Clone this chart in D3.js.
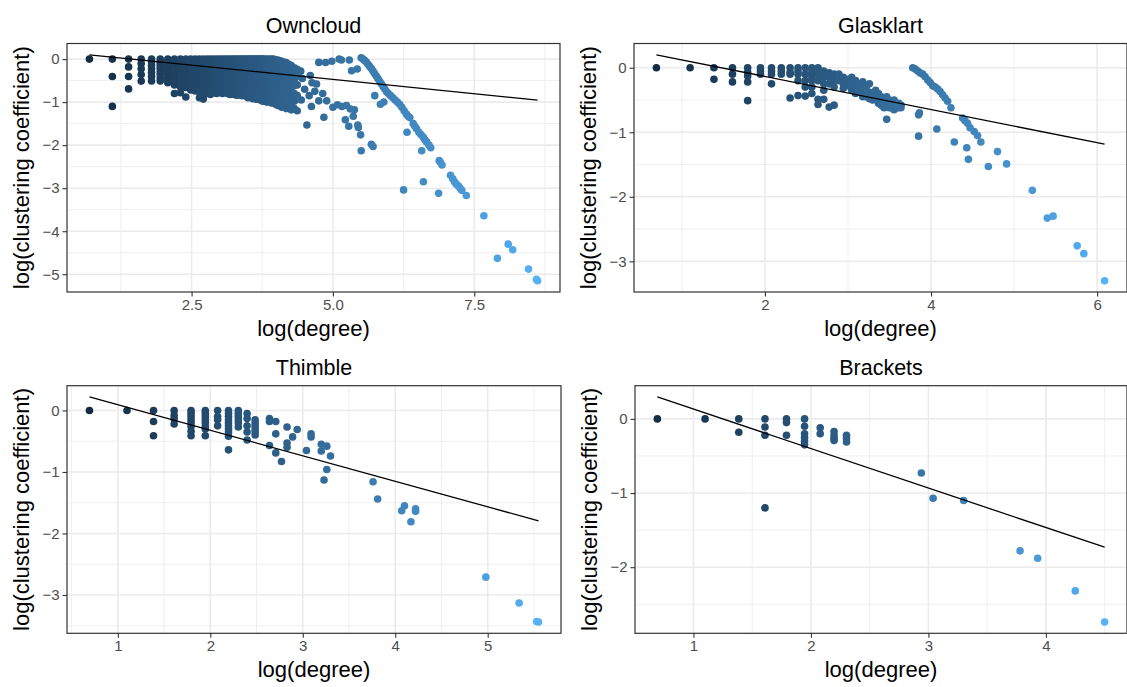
<!DOCTYPE html>
<html><head><meta charset="utf-8">
<script src="https://cdn.jsdelivr.net/npm/d3@7/dist/d3.min.js"></script>
<style>
body{margin:0;background:#fff;}
svg{display:block;font-family:"Liberation Sans",Arial,Helvetica,sans-serif;}
</style></head>
<body><svg id="chart" width="1127" height="687"></svg>
<script>
// ---------------- DATA ----------------
const panelTitles = ["Owncloud","Glasklart","Thimble","Brackets"];
const xTitle = "log(degree)";
const yTitle = "log(clustering coefficient)";

// tick values per panel
const xTicks = [[2.5,5,7.5],[2,4,6],[1,2,3,4,5],[1,2,3,4]];
const xTickLabels = [["2.5","5.0","7.5"],["2","4","6"],["1","2","3","4","5"],["1","2","3","4"]];
const yTicks = [[0,-1,-2,-3,-4,-5],[0,-1,-2,-3],[0,-1,-2,-3],[0,-1,-2]];

// regression lines: [intercept, slope]
const fits = [[0.192,-0.133],[0.378,-0.2565],[0.507,-0.4147],[0.665,-0.5324]];

// Owncloud: columns [log(degree), [log(cc) values]]
const ownColumns = [
 [0.693,[0]],
 [1.099,[0,-0.405,-1.099]],
 [1.386,[0,-0.182,-0.405,-0.693]],
 [1.609,[0,-0.105,-0.223,-0.357,-0.511]],
 [1.792,[0,-0.07,-0.143,-0.223,-0.31,-0.405,-0.51]],
 [1.946,[0,-0.05,-0.1,-0.16,-0.22,-0.29,-0.36,-0.44,-0.51]],
 [2.079,[0,-0.05,-0.1,-0.15,-0.2,-0.25,-0.3,-0.36,-0.42,-0.48,-0.55]],
 [2.197,[0,-0.04,-0.08,-0.13,-0.18,-0.23,-0.29,-0.35,-0.41,-0.47,-0.53,-0.6,-0.8]],
 [2.303,[0,-0.04,-0.08,-0.12,-0.17,-0.22,-0.27,-0.32,-0.38,-0.44,-0.5,-0.57,-0.64,-0.78]],
 [2.398,[0,-0.05,-0.1,-0.15,-0.2,-0.25,-0.3,-0.35,-0.4,-0.46,-0.52,-0.58,-0.66,-0.88]],
 [2.485,[0,-0.05,-0.1,-0.15,-0.2,-0.25,-0.3,-0.35,-0.4,-0.46,-0.52,-0.58,-0.65,-0.72]],
 [2.565,[0,-0.05,-0.1,-0.15,-0.2,-0.25,-0.3,-0.35,-0.4,-0.46,-0.52,-0.58,-0.66,-0.74]],
 [2.639,[0,-0.05,-0.1,-0.15,-0.2,-0.25,-0.3,-0.35,-0.4,-0.46,-0.52,-0.58,-0.66,-0.76,-0.9]],
 [2.708,[0,-0.05,-0.1,-0.15,-0.2,-0.25,-0.3,-0.35,-0.4,-0.46,-0.52,-0.58,-0.66,-0.74,-0.8,-0.93]],
 [2.773,[0,-0.05,-0.1,-0.15,-0.2,-0.25,-0.3,-0.35,-0.4,-0.46,-0.52,-0.58,-0.66,-0.74,-0.8]],
 [2.833,[0,-0.05,-0.1,-0.15,-0.2,-0.25,-0.3,-0.35,-0.4,-0.46,-0.52,-0.58,-0.66,-0.74,-0.82]],
 [2.890,[0,-0.05,-0.1,-0.15,-0.2,-0.25,-0.3,-0.35,-0.4,-0.46,-0.52,-0.58,-0.66,-0.72,-0.78]],
 [2.944,[0,-0.05,-0.1,-0.15,-0.2,-0.25,-0.3,-0.35,-0.4,-0.46,-0.52,-0.58,-0.66,-0.74,-0.8]],
 [2.996,[0,-0.05,-0.1,-0.15,-0.2,-0.25,-0.3,-0.35,-0.4,-0.46,-0.52,-0.58,-0.66,-0.74]],
 [3.045,[0,-0.05,-0.1,-0.15,-0.2,-0.25,-0.3,-0.35,-0.4,-0.46,-0.52,-0.58,-0.66,-0.74,-0.8]],
 [3.091,[0,-0.05,-0.1,-0.15,-0.2,-0.25,-0.3,-0.35,-0.4,-0.46,-0.52,-0.58,-0.66,-0.74]],
 [3.135,[0,-0.05,-0.1,-0.15,-0.2,-0.25,-0.3,-0.35,-0.4,-0.46,-0.52,-0.58,-0.66,-0.74,-0.8]],
 [3.178,[0,-0.05,-0.1,-0.15,-0.2,-0.25,-0.3,-0.35,-0.4,-0.46,-0.52,-0.58,-0.66,-0.74,-0.82]],
 [3.219,[0,-0.05,-0.1,-0.15,-0.2,-0.25,-0.3,-0.35,-0.4,-0.46,-0.52,-0.58,-0.66,-0.74,-0.8]],
 [3.258,[0,-0.05,-0.1,-0.15,-0.2,-0.25,-0.3,-0.35,-0.4,-0.46,-0.52,-0.58,-0.66,-0.74,-0.82]],
 [3.296,[0,-0.05,-0.1,-0.15,-0.2,-0.25,-0.3,-0.35,-0.4,-0.46,-0.52,-0.58,-0.66,-0.74,-0.84]],
 [3.332,[0,-0.05,-0.1,-0.15,-0.2,-0.25,-0.3,-0.35,-0.4,-0.46,-0.52,-0.58,-0.66,-0.74,-0.82]],
 [3.367,[0,-0.05,-0.1,-0.15,-0.2,-0.25,-0.3,-0.35,-0.4,-0.46,-0.52,-0.58,-0.66,-0.74,-0.84]],
 [3.401,[0,-0.05,-0.1,-0.15,-0.2,-0.25,-0.3,-0.35,-0.4,-0.46,-0.52,-0.58,-0.66,-0.74,-0.85]],
 [3.434,[0,-0.05,-0.1,-0.15,-0.2,-0.25,-0.3,-0.35,-0.4,-0.46,-0.52,-0.58,-0.66,-0.74,-0.83]],
 [3.466,[0,-0.05,-0.1,-0.15,-0.2,-0.25,-0.3,-0.35,-0.4,-0.46,-0.52,-0.58,-0.66,-0.74,-0.86]],
 [3.497,[0,-0.05,-0.1,-0.15,-0.2,-0.25,-0.3,-0.35,-0.4,-0.46,-0.52,-0.58,-0.66,-0.74,-0.82,-0.9]],
 [3.526,[0,-0.05,-0.1,-0.15,-0.2,-0.25,-0.3,-0.35,-0.4,-0.46,-0.52,-0.58,-0.66,-0.74,-0.84]],
 [3.555,[0,-0.05,-0.1,-0.15,-0.2,-0.25,-0.3,-0.35,-0.4,-0.46,-0.52,-0.58,-0.66,-0.74,-0.82,-0.88]],
 [3.584,[0,-0.05,-0.1,-0.15,-0.2,-0.25,-0.3,-0.35,-0.4,-0.46,-0.52,-0.58,-0.66,-0.74,-0.84,-0.92]],
 [3.611,[0,-0.05,-0.1,-0.15,-0.2,-0.25,-0.3,-0.35,-0.4,-0.46,-0.52,-0.58,-0.66,-0.74,-0.82,-0.9]],
 [3.638,[0,-0.05,-0.1,-0.15,-0.2,-0.25,-0.3,-0.35,-0.4,-0.46,-0.52,-0.58,-0.66,-0.74,-0.84,-0.93]],
 [3.664,[0,-0.05,-0.1,-0.15,-0.2,-0.25,-0.3,-0.35,-0.4,-0.46,-0.52,-0.58,-0.66,-0.74,-0.82,-0.9]],
 [3.689,[0,-0.05,-0.1,-0.15,-0.2,-0.25,-0.3,-0.35,-0.4,-0.46,-0.52,-0.58,-0.66,-0.74,-0.84,-0.94]],
 [3.714,[0,-0.05,-0.1,-0.15,-0.2,-0.25,-0.3,-0.35,-0.4,-0.46,-0.52,-0.58,-0.66,-0.74,-0.82,-0.92]],
 [3.738,[0,-0.05,-0.1,-0.15,-0.2,-0.25,-0.3,-0.35,-0.4,-0.46,-0.52,-0.58,-0.66,-0.74,-0.84,-0.96]],
 [3.761,[0,-0.05,-0.1,-0.15,-0.2,-0.25,-0.3,-0.35,-0.4,-0.46,-0.52,-0.58,-0.66,-0.74,-0.86,-0.98]],
 [3.784,[0,-0.05,-0.1,-0.15,-0.2,-0.25,-0.3,-0.35,-0.4,-0.46,-0.52,-0.58,-0.66,-0.74,-0.84,-0.95]],
 [3.829,[0,-0.05,-0.1,-0.15,-0.2,-0.25,-0.3,-0.35,-0.4,-0.46,-0.52,-0.58,-0.66,-0.74,-0.86,-1.0]],
 [3.871,[0,-0.05,-0.1,-0.15,-0.2,-0.25,-0.3,-0.35,-0.4,-0.46,-0.52,-0.58,-0.66,-0.74,-0.84,-0.96]],
 [3.912,[0,-0.05,-0.1,-0.15,-0.2,-0.25,-0.3,-0.35,-0.4,-0.46,-0.52,-0.58,-0.66,-0.74,-0.86,-1.02]],
 [3.951,[0,-0.05,-0.1,-0.15,-0.2,-0.25,-0.3,-0.35,-0.4,-0.46,-0.52,-0.58,-0.66,-0.74,-0.84,-0.98]],
 [3.989,[-0.02,-0.06,-0.1,-0.15,-0.2,-0.25,-0.3,-0.35,-0.4,-0.46,-0.52,-0.58,-0.66,-0.74,-0.86,-1.05]],
 [4.025,[-0.02,-0.06,-0.1,-0.15,-0.2,-0.25,-0.3,-0.35,-0.4,-0.46,-0.52,-0.58,-0.66,-0.76,-0.9,-1.08]],
 [4.06,[-0.04,-0.08,-0.12,-0.17,-0.22,-0.27,-0.32,-0.38,-0.44,-0.5,-0.56,-0.62,-0.7,-0.8,-0.92,-1.05]],
 [4.094,[-0.05,-0.1,-0.15,-0.2,-0.25,-0.3,-0.35,-0.4,-0.46,-0.52,-0.58,-0.66,-0.74,-0.86,-1.0,-1.12]],
 [4.127,[-0.07,-0.12,-0.18,-0.24,-0.3,-0.36,-0.42,-0.48,-0.54,-0.6,-0.68,-0.76,-0.86,-0.96,-1.08]],
 [4.174,[-0.08,-0.14,-0.2,-0.26,-0.32,-0.38,-0.44,-0.5,-0.56,-0.62,-0.7,-0.78,-0.88,-1.0,-1.15]],
 [4.22,[-0.12,-0.2,-0.3,-0.4,-0.5,-0.6,-0.7,-0.82,-0.95,-1.1]],
 [4.263,[-0.15,-0.25,-0.38,-0.5,-0.62,-0.75,-0.9,-1.05,-1.18]],
 [4.317,[-0.2,-0.32,-0.48,-0.62,-0.8,-0.98,-1.15]],
 [4.369,[-0.24,-0.4,-0.6,-0.85,-1.2]]
];
// Owncloud: individual points [log(degree), log(cc)]
const ownPoints = [
 [4.43,-0.28],[4.46,-0.45],[4.5,-0.7],[4.44,-0.95],[4.54,-1.53],[4.6,-0.38],[4.63,-0.55],[4.58,-0.85],
 [4.71,-0.58],[4.68,-0.75],[4.75,-0.97],[4.89,-0.97],[4.84,-1.35],[4.82,-0.8],[4.62,-1.1],
 [4.75,-0.077],[4.87,-0.08],[4.98,-0.05],[5.11,0],[5.15,-0.02],[5.29,-0.02],[5.33,-0.27],[5.43,-0.23],
 [5.0,-1.12],[5.08,-1.06],[5.16,-1.1],[5.24,-1.08],[5.31,-1.16],[5.38,-1.18],[5.44,-1.53],
 [5.28,-1.56],[5.22,-1.41],[5.36,-1.33],[5.45,-1.59],[5.49,-1.76],[5.5,-2.13],
 [5.68,-1.98],[5.71,-2.03],
 [5.50,0.03],[5.53,0.0],[5.56,-0.03],[5.59,-0.07],[5.62,-0.12],[5.65,-0.17],[5.68,-0.22],[5.71,-0.28],
 [5.74,-0.34],[5.77,-0.4],[5.8,-0.46],[5.83,-0.52],[5.86,-0.58],[5.89,-0.64],[5.92,-0.7],[5.95,-0.76],
 [5.98,-0.8],[6.02,-0.85],[6.06,-0.9],[6.1,-0.95],[6.14,-1.0],[6.18,-1.05],[6.22,-1.12],[6.26,-1.2],
 [6.3,-1.28],[6.33,-1.33],[6.36,-1.36],[6.42,-1.5],[6.45,-1.56],[6.48,-1.62],[6.52,-1.7],[6.56,-1.76],
 [6.6,-1.82],[6.63,-1.88],[6.66,-1.93],[6.7,-2.0],[6.73,-2.06],[6.88,-2.36],[6.9,-2.4],[6.93,-2.46],
 [7.08,-2.7],[7.12,-2.78],[7.15,-2.85],[7.18,-2.9],[7.22,-2.95],[7.25,-3.0],[7.28,-3.05],[7.36,-3.17],
 [7.67,-3.64],[8.1,-4.3],[8.18,-4.43],[7.91,-4.63],[8.46,-4.88],[8.6,-5.12],[8.62,-5.15],
 [5.74,-0.85],[5.84,-1.05],[5.9,-1.0],[6.31,-1.7],[6.57,-2.13],[6.6,-2.85],[6.25,-3.04],[6.87,-3.12]
];

// Glasklart
const glaColumns = [
 [0.693,[0]],[1.099,[0]],[1.386,[0,-0.18]],[1.609,[0,-0.1,-0.22]],
 [1.792,[0,-0.07,-0.13,-0.22,-0.51]],[1.946,[0,-0.05,-0.1]],[2.079,[0,-0.05,-0.1,-0.25]],
 [2.197,[0,-0.05,-0.1]],[2.303,[0,-0.07,-0.1,-0.47]],[2.398,[0,-0.05,-0.1,-0.2,-0.43]],
 [2.485,[0,-0.1,-0.2,-0.3,-0.44]],[2.565,[0,-0.05,-0.1,-0.15,-0.2,-0.3,-0.4]],
 [2.639,[0,-0.1,-0.2,-0.49,-0.57]],[2.708,[-0.05,-0.1,-0.15,-0.25,-0.35,-0.49]],
 [2.773,[-0.08,-0.15,-0.25,-0.61]],[2.833,[-0.1,-0.2,-0.3,-0.58]],[2.89,[-0.1,-0.2]],
 [2.944,[-0.15,-0.25,-0.32]],[2.996,[-0.18,-0.28]],[3.045,[-0.15,-0.25,-0.35]],
 [3.091,[-0.2,-0.3,-0.4]],[3.135,[-0.25,-0.35]],[3.178,[-0.22,-0.3,-0.4,-0.45]],
 [3.219,[-0.3,-0.45]],[3.258,[-0.25,-0.38,-0.48]],[3.296,[-0.4,-0.5]],[3.333,[-0.35,-0.48]],
 [3.367,[-0.4,-0.55]],[3.401,[-0.45,-0.5,-0.58]],[3.434,[-0.5,-0.55,-0.62]],
 [3.466,[-0.45,-0.52,-0.6,-0.8]],[3.497,[-0.5,-0.55,-0.62]],[3.526,[-0.55,-0.62,-0.58]],
 [3.555,[-0.5,-0.58,-0.65]],[3.584,[-0.55,-0.62]],[3.611,[-0.55,-0.62]],[3.638,[-0.58,-0.62]]
];
const glaPoints = [
 [3.78,0],[3.81,-0.02],[3.84,-0.05],[3.87,-0.08],[3.9,-0.1],[3.93,-0.14],[3.96,-0.19],[3.99,-0.23],
 [4.02,-0.28],[4.05,-0.3],[4.08,-0.33],[4.11,-0.37],[4.14,-0.42],[4.17,-0.47],[4.2,-0.52],[4.24,-0.62],
 [3.85,-0.73],[3.86,-0.7],[3.85,-1.06],[4.07,-0.95],[4.28,-1.15],[4.38,-0.78],[4.41,-0.82],[4.44,-0.86],
 [4.47,-0.93],[4.43,-1.24],[4.45,-1.42],[4.52,-0.99],[4.56,-1.05],[4.6,-1.15],[4.69,-1.53],[4.8,-1.3],
 [4.91,-1.49],[5.22,-1.9],[5.4,-2.33],[5.47,-2.3],[5.76,-2.76],[5.84,-2.88],[6.09,-3.3]
];

// Thimble
const thiColumns = [
 [0.693,[0]],[1.099,[0]],[1.386,[0,-0.18,-0.41]],[1.609,[0,-0.08,-0.14,-0.22]],
 [1.792,[0,-0.05,-0.1,-0.15,-0.2,-0.26,-0.34,-0.41]],[1.946,[0,-0.05,-0.1,-0.15,-0.2,-0.26,-0.3,-0.41]],
 [2.079,[0,-0.1,-0.15,-0.25]],[2.197,[0,-0.05,-0.1,-0.15,-0.2,-0.25,-0.3,-0.35,-0.42,-0.64]],
 [2.303,[0,-0.05,-0.1,-0.15,-0.2,-0.27]],[2.398,[-0.05,-0.13,-0.25,-0.35,-0.48]],
 [2.485,[-0.15,-0.2,-0.25,-0.3,-0.35,-0.4]]
];
const thiPoints = [
 [2.64,-0.13],[2.64,-0.18],[2.64,-0.57],[2.708,-0.18],[2.708,-0.38],[2.708,-0.69],[2.77,-0.83],
 [2.83,-0.27],[2.83,-0.53],[2.83,-0.6],[2.89,-0.43],[2.94,-0.31],[3.04,-0.65],[3.09,-0.38],[3.09,-0.43],
 [3.2,-0.55],[3.2,-0.66],[3.26,-0.58],[3.3,-0.74],[3.26,-0.96],[3.23,-1.13],[3.76,-1.16],[3.81,-1.44],
 [4.07,-1.63],[4.1,-1.55],[4.17,-1.81],[4.22,-1.6],[4.22,-1.64],[4.98,-2.71],[5.34,-3.13],[5.53,-3.43],[5.55,-3.44]
];

// Brackets
const braColumns = [
 [0.693,[0]],[1.099,[0]],[1.386,[0,-0.18]],[1.609,[0,-0.11,-0.22,-1.2]],
 [1.792,[0,-0.05,-0.22]],[1.946,[0,-0.1,-0.2,-0.25,-0.3,-0.35]],[2.079,[-0.12,-0.2]],
 [2.197,[-0.17,-0.22,-0.26,-0.29]],[2.303,[-0.22,-0.26,-0.31]]
];
const braPoints = [
 [2.94,-0.73],[3.04,-1.07],[3.3,-1.1],[3.78,-1.78],[3.93,-1.88],[4.25,-2.32],[4.5,-2.74]
];

// ---------------- DRAW ----------------
function expandCols(cols, pts){
  const out = [];
  cols.forEach(([x, ys]) => ys.forEach(y => out.push([x, y])));
  pts.forEach(p => out.push(p));
  return out;
}
const panelData = [
  expandCols(ownColumns, ownPoints),
  expandCols(glaColumns, glaPoints),
  expandCols(thiColumns, thiPoints),
  expandCols(braColumns, braPoints)
];

const boxes = [
  {l:67, r:560, t:43.5, b:292},
  {l:634, r:1127, t:43.5, b:292},
  {l:67, r:561, t:385.7, b:633.3},
  {l:635, r:1127, t:385.7, b:633.3}
];

const svg = d3.select("#chart");
const lowC = "#132B43", highC = "#56B1F7";

function expandDomain(ext){ const s = ext[1]-ext[0]; return [ext[0]-0.05*s, ext[1]+0.05*s]; }
function minors(ticks, dom){
  const t = ticks.slice().sort((a,b)=>a-b);
  const step = t[1]-t[0];
  const res = [];
  for (let v = t[0]-step/2; v <= t[t.length-1]+step/2 + 1e-9; v += step) {
    if (v >= dom[0] && v <= dom[1]) res.push(v);
  }
  return res;
}

panelData.forEach((data, i) => {
  const B = boxes[i];
  const xExt = d3.extent(data, d => d[0]);
  const yExt = d3.extent(data, d => d[1]);
  const [a, b] = fits[i];
  const yLine = [a + b*xExt[0], a + b*xExt[1]];
  const yAll = [Math.min(yExt[0], ...yLine), Math.max(yExt[1], ...yLine)];
  const xd = expandDomain(xExt), yd = expandDomain(yAll);
  const x = d3.scaleLinear().domain(xd).range([B.l, B.r]);
  const y = d3.scaleLinear().domain(yd).range([B.b, B.t]);
  const col = d3.scaleLinear().domain(xExt).range([lowC, highC]).interpolate(d3.interpolateLab);

  const g = svg.append("g");
  g.append("rect").attr("x",B.l).attr("y",B.t).attr("width",B.r-B.l).attr("height",B.b-B.t).attr("fill","#fff");
  // minor grid
  minors(xTicks[i], xd).forEach(v => g.append("line").attr("x1",x(v)).attr("x2",x(v)).attr("y1",B.t).attr("y2",B.b)
     .attr("stroke","#EBEBEB").attr("stroke-width",0.8));
  minors(yTicks[i], yd).forEach(v => g.append("line").attr("y1",y(v)).attr("y2",y(v)).attr("x1",B.l).attr("x2",B.r)
     .attr("stroke","#EBEBEB").attr("stroke-width",0.8));
  // major grid
  xTicks[i].forEach(v => g.append("line").attr("x1",x(v)).attr("x2",x(v)).attr("y1",B.t).attr("y2",B.b)
     .attr("stroke","#EBEBEB").attr("stroke-width",1.6));
  yTicks[i].forEach(v => g.append("line").attr("y1",y(v)).attr("y2",y(v)).attr("x1",B.l).attr("x2",B.r)
     .attr("stroke","#EBEBEB").attr("stroke-width",1.6));

  // points
  g.append("g").selectAll("circle").data(data).join("circle")
    .attr("cx", d => x(d[0])).attr("cy", d => y(d[1])).attr("r", 3.8)
    .attr("fill", d => col(d[0]));

  // regression line
  g.append("line").attr("x1", x(xExt[0])).attr("y1", y(yLine[0]))
    .attr("x2", x(xExt[1])).attr("y2", y(yLine[1]))
    .attr("stroke","#000").attr("stroke-width",1.3);

  // border
  g.append("rect").attr("x",B.l).attr("y",B.t).attr("width",B.r-B.l).attr("height",B.b-B.t)
    .attr("fill","none").attr("stroke","#333333").attr("stroke-width",1.2);

  // axes
  const xAxis = d3.axisBottom(x).tickValues(xTicks[i]).tickFormat((d,j)=>xTickLabels[i][j]).tickSize(4.5).tickPadding(3);
  const gx = g.append("g").attr("transform",`translate(0,${B.b})`).call(xAxis);
  const yAxis = d3.axisLeft(y).tickValues(yTicks[i]).tickFormat(d => d < 0 ? "\u2212" + Math.abs(d) : String(d)).tickSize(4.5).tickPadding(3);
  const gy = g.append("g").attr("transform",`translate(${B.l},0)`).call(yAxis);
  [gx, gy].forEach(ax => {
    ax.select(".domain").remove();
    ax.selectAll(".tick line").attr("stroke","#333333").attr("stroke-width",1.1);
    ax.selectAll(".tick text").attr("fill","#4D4D4D").style("font-size","15px").style("font-family","'Liberation Sans',Arial,sans-serif");
  });

  // titles
  const cx = (B.l + B.r)/2;
  g.append("text").attr("x", cx).attr("y", B.t - 11).attr("text-anchor","middle")
    .style("font-size","21.5px").attr("fill","#000").text(panelTitles[i]);
  g.append("text").attr("x", cx).attr("y", B.b + 44).attr("text-anchor","middle")
    .style("font-size","22px").attr("fill","#000").text(xTitle);
  const ym = (B.t + B.b)/2;
  g.append("text").attr("transform", `translate(${B.l - 38},${ym}) rotate(-90)`).attr("text-anchor","middle")
    .style("font-size","22px").attr("fill","#000").text(yTitle);
});
</script>
</body></html>
